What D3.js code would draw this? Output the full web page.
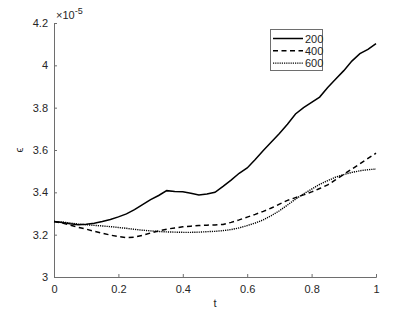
<!DOCTYPE html>
<html>
<head>
<meta charset="utf-8">
<script src="https://cdn.jsdelivr.net/npm/d3@7"></script>
<style>
  body { margin: 0; background: #fff; }
  text { font-family: "Liberation Sans", Arial, sans-serif; fill: #262626; }
</style>
</head>
<body>
<div id="chart-area"></div>
<script>
// data (values in units of 1e-5)
var tVals = [0, 0.025, 0.05, 0.075, 0.1, 0.125, 0.15, 0.175, 0.2, 0.225, 0.25, 0.275, 0.3, 0.325, 0.35,
  0.375, 0.4, 0.425, 0.45, 0.475, 0.5, 0.525, 0.55, 0.575, 0.6, 0.625, 0.65, 0.675, 0.7, 0.725,
  0.75, 0.775, 0.8, 0.825, 0.85, 0.875, 0.9, 0.925, 0.95, 0.975, 1];
var eps200 = [3.262, 3.258, 3.252, 3.247, 3.249, 3.254, 3.262, 3.272, 3.284, 3.298, 3.318, 3.342, 3.366,
  3.385, 3.408, 3.404, 3.403, 3.396, 3.388, 3.392, 3.400, 3.428, 3.458, 3.490, 3.515, 3.555, 3.598,
  3.638, 3.678, 3.722, 3.770, 3.800, 3.825, 3.850, 3.895, 3.935, 3.975, 4.020, 4.055, 4.075, 4.103];
var eps400 = [3.262, 3.255, 3.245, 3.235, 3.226, 3.216, 3.207, 3.198, 3.191, 3.186, 3.188, 3.197, 3.208,
  3.218, 3.226, 3.232, 3.237, 3.240, 3.243, 3.245, 3.246, 3.248, 3.258, 3.270, 3.283, 3.296, 3.310,
  3.326, 3.344, 3.362, 3.375, 3.388, 3.402, 3.418, 3.435, 3.460, 3.485, 3.510, 3.535, 3.560, 3.585];
var eps600 = [3.262, 3.260, 3.255, 3.250, 3.247, 3.244, 3.241, 3.238, 3.234, 3.230, 3.225, 3.221, 3.218,
  3.215, 3.213, 3.212, 3.211, 3.211, 3.212, 3.214, 3.216, 3.219, 3.224, 3.232, 3.243, 3.255, 3.270,
  3.290, 3.313, 3.340, 3.368, 3.393, 3.415, 3.438, 3.455, 3.472, 3.484, 3.494, 3.502, 3.507, 3.510];
var seriesNames = ["200", "400", "600"];
var xTicks = [0, 0.2, 0.4, 0.6, 0.8, 1];
var yTicks = [3, 3.2, 3.4, 3.6, 3.8, 4, 4.2];

var margin = { left: 54, right: 39, top: 23, bottom: 35 };
var width = 415 - margin.left - margin.right,
    height = 312 - margin.top - margin.bottom;

var svg = d3.select("#chart-area").append("svg")
    .attr("width", 415)
    .attr("height", 312);
var g = svg.append("g")
    .attr("transform", "translate(" + margin.left + "," + margin.top + ")");

var x = d3.scaleLinear().domain([0, 1]).range([0, width]);
var y = d3.scaleLinear().domain([3, 4.2]).range([height, 0]);

// axes, MATLAB style with inward ticks
var xAxis = g.append("g")
    .attr("transform", "translate(0," + height + ")")
    .call(d3.axisBottom(x).tickValues(xTicks).tickSize(-3).tickPadding(8)
      .tickFormat(function(d) { return +d; }));
var yAxis = g.append("g")
    .call(d3.axisLeft(y).tickValues(yTicks).tickSize(-3).tickPadding(6)
      .tickFormat(function(d) { return +d; }));
[xAxis, yAxis].forEach(function(a) {
  a.selectAll("path").attr("stroke", "#6e6e6e");
  a.selectAll("line").attr("stroke", "#6e6e6e");
  a.selectAll("text").attr("font-size", "11px").style("font-family", "Liberation Sans, Arial, sans-serif").attr("fill", "#262626");
});

// labels
g.append("text")
    .attr("x", width / 2)
    .attr("y", height + 30)
    .attr("text-anchor", "middle")
    .attr("font-size", "11px")
    .text("t");
g.append("text")
    .attr("transform", "rotate(-90)")
    .attr("x", -(y(3.6)))
    .attr("y", -31)
    .attr("text-anchor", "middle")
    .attr("font-size", "11px")
    .text("\u03f5");
var expo = g.append("text")
    .attr("x", 2)
    .attr("y", -4)
    .attr("font-size", "11px");
expo.append("tspan").text("\u00d710");
expo.append("tspan").attr("dy", -5).attr("font-size", "9px").text("-5");

// lines
var styles = [
  { data: eps200, dash: null, w: 1.5 },
  { data: eps400, dash: "5,3.5", w: 1.5 },
  { data: eps600, dash: "1.2,1", w: 1.4 }
];
var line = d3.line()
    .x(function(d) { return x(d[0]); })
    .y(function(d) { return y(d[1]); });

styles.forEach(function(s) {
  var pts = tVals.map(function(t, i) { return [t, s.data[i]]; });
  g.append("path")
      .datum(pts)
      .attr("fill", "none")
      .attr("stroke", "#000")
      .attr("stroke-width", s.w)
      .attr("stroke-dasharray", s.dash)
      .attr("d", line);
});

// legend
var legend = svg.append("g").attr("transform", "translate(270,29)");
legend.append("rect")
    .attr("x", 0.5).attr("y", 0.5)
    .attr("width", 52).attr("height", 41)
    .attr("fill", "#fff")
    .attr("stroke", "#6e6e6e");
seriesNames.forEach(function(name, i) {
  var row = legend.append("g").attr("transform", "translate(0," + (9.5 + i * 12.3) + ")");
  row.append("line")
      .attr("x1", 3).attr("x2", 33)
      .attr("stroke", "#000")
      .attr("stroke-width", styles[i].w)
      .attr("stroke-dasharray", styles[i].dash);
  row.append("text")
      .attr("x", 35)
      .attr("y", 4)
      .attr("font-size", "11px")
      .text(name);
});
</script>
</body>
</html>
